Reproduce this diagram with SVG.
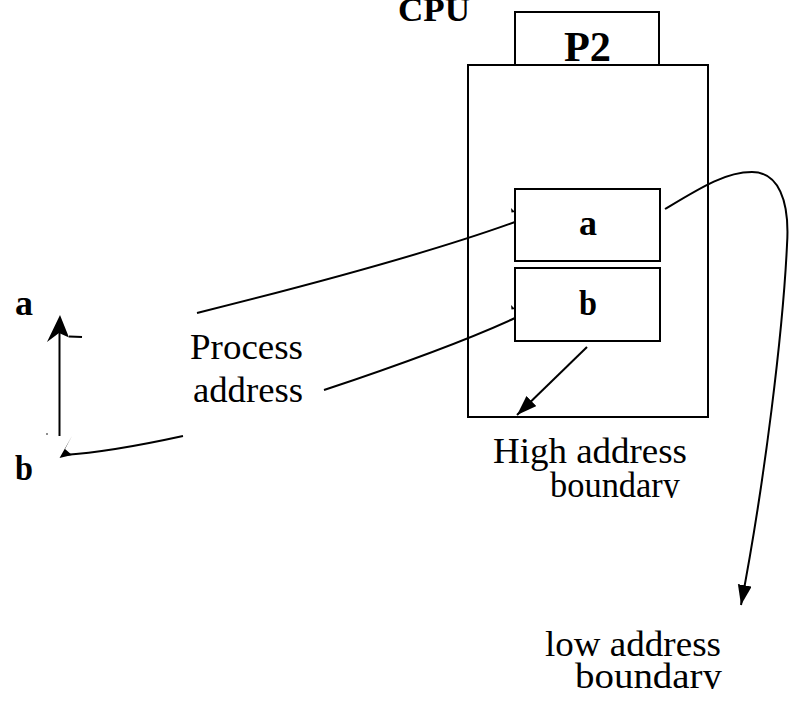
<svg xmlns="http://www.w3.org/2000/svg" width="792" height="704" viewBox="0 0 792 704">
  <style>
    .box { fill: none; stroke: #000; stroke-width: 2; }
    .wire { fill: none; stroke: #000; stroke-width: 2; }
    .head { fill: #000; stroke: none; }
    .bold { font-family: "Liberation Serif", "Times New Roman", Tinos, serif; font-weight: bold; fill: #000; }
    .reg { font-family: "Liberation Serif", "Times New Roman", Tinos, serif; fill: #000; }
  </style>
  <defs>
    <marker id="arrow" markerUnits="userSpaceOnUse" markerWidth="22" markerHeight="16" refX="20" refY="7" orient="auto">
      <path d="M0,0 L20,7 L0,14 Z" fill="#000"/>
    </marker>
    <clipPath id="clipHigh"><rect x="480" y="420" width="230" height="78"/></clipPath>
    <clipPath id="clipLow"><rect x="530" y="620" width="220" height="69"/></clipPath>
  </defs>
  <rect width="792" height="704" fill="#fff"/>

  <g id="cpu-label">
    <text class="bold" x="398" y="21" font-size="34" textLength="72" lengthAdjust="spacingAndGlyphs">CPU</text>
  </g>

  <g id="p2">
    <rect class="box" x="515" y="12" width="144" height="53"/>
    <text class="bold" x="564" y="61" font-size="42" textLength="47" lengthAdjust="spacingAndGlyphs">P2</text>
  </g>

  <g id="process-space">
    <rect class="box" x="468" y="65" width="240" height="352"/>
  </g>

  <g id="cell-a">
    <rect class="box" x="515" y="189" width="145" height="72"/>
    <text class="bold" x="579" y="235" font-size="36" textLength="18" lengthAdjust="spacingAndGlyphs">a</text>
  </g>

  <g id="cell-b">
    <rect class="box" x="515" y="268" width="145" height="73"/>
    <text class="bold" x="579" y="315" font-size="36" textLength="18" lengthAdjust="spacingAndGlyphs">b</text>
  </g>

  <g id="addr-a">
    <text class="bold" x="15" y="315" font-size="36" textLength="18" lengthAdjust="spacingAndGlyphs">a</text>
  </g>

  <g id="addr-b">
    <text class="bold" x="15" y="480" font-size="36" textLength="18" lengthAdjust="spacingAndGlyphs">b</text>
  </g>

  <g id="process-address">
    <text class="reg" x="190" y="359" font-size="35" textLength="113" lengthAdjust="spacingAndGlyphs">Process</text>
    <text class="reg" x="193" y="402" font-size="35" textLength="110" lengthAdjust="spacingAndGlyphs">address</text>
  </g>

  <g id="high-boundary">
    <text class="reg" x="493" y="463" font-size="35" textLength="194" lengthAdjust="spacingAndGlyphs">High address</text>
    <text class="reg" x="550" y="497" font-size="35" textLength="130" lengthAdjust="spacingAndGlyphs" clip-path="url(#clipHigh)">boundary</text>
  </g>

  <g id="low-boundary">
    <text class="reg" x="545" y="656" font-size="35" textLength="176" lengthAdjust="spacingAndGlyphs">low address</text>
    <text class="reg" x="575" y="688" font-size="35" textLength="147" lengthAdjust="spacingAndGlyphs" clip-path="url(#clipLow)">boundary</text>
  </g>

  <g id="connectors">
    <!-- cell a to the address range -->
    <path class="wire" d="M197,313 Q410,260 515,222"/>
    <path class="head" d="M511,208 L515,212 L511.5,212.5 Z"/>
    <path class="wire" d="M82,337 L69,336.5"/>
    <!-- cell b to the address range -->
    <path class="wire" d="M324,390 Q450,348 515,318"/>
    <path class="head" d="M511,305 L515,309 L511.5,309.5 Z"/>
    <path class="wire" d="M183,436 Q110,452 64,455"/>
    <!-- address range axis -->
    <path class="wire" d="M59.5,436 L59.5,325"/>
    <path class="head" d="M60,315 L47,342 L59,333 L69,337.5 Z"/>
    <path class="head" d="M59.5,458 L72,436 L65,449 L72,455 Z"/>
    <circle cx="47" cy="434" r="0.8" fill="#000"/>
    <!-- cell b down to high boundary -->
    <path class="wire" d="M587,347 L517,415" marker-end="url(#arrow)"/>
    <!-- cell a out to low boundary -->
    <path class="wire" d="M665,209 C700,188 725,172 752,172 C778,172 790,200 787,245 C783,330 765,480 741,605" marker-end="url(#arrow)"/>
  </g>
</svg>
